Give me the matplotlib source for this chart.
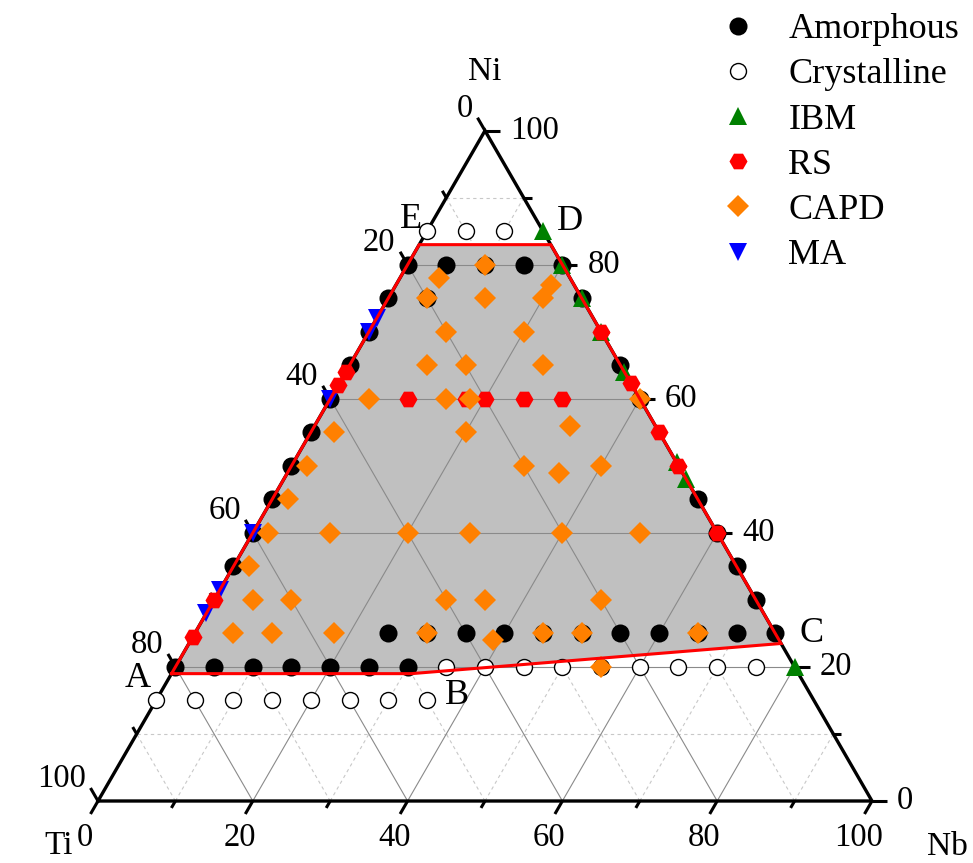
import numpy as np
import matplotlib
matplotlib.use("Agg")
import matplotlib.pyplot as plt

plt.rcParams['font.family'] = ['Liberation Serif', 'DejaVu Serif']

# ---------------- data (at.%; Ti = 100 - Ni - Nb) ----------------
amorphous_ni = [20, 20, 20, 20, 20, 20, 20,
                25, 25, 25, 25, 25, 25, 25, 25, 25, 25, 25,
                35, 40, 45, 50, 55, 60, 65, 70, 75, 80,
                80, 80, 80, 80, 75,
                30, 35, 40, 45, 60, 65, 75]
amorphous_nb = [0, 5, 10, 15, 20, 25, 30,
                25, 30, 35, 40, 45, 50, 55, 60, 65, 70, 75,
                0, 0, 0, 0, 0, 0, 0, 0, 0, 0,
                5, 10, 15, 20, 5,
                70, 65, 60, 55, 40, 35, 25]

crystalline_ni = [15, 15, 15, 15, 15, 15, 15, 15,
                  20, 20, 20, 20, 20, 20, 20, 20, 20,
                  85, 85, 85]
crystalline_nb = [0, 5, 10, 15, 20, 25, 30, 35,
                  35, 40, 45, 50, 55, 60, 65, 70, 75,
                  0, 5, 10]

ibm_ni = [85, 80, 75, 70, 64, 50.5, 48, 20]
ibm_nb = [15, 20, 25, 30, 36, 49.5, 52, 80]

rs_ni = [64, 62, 30, 24.5, 60, 60, 60, 60, 60, 70, 62.4, 55, 50, 40]
rs_nb = [0, 0, 0, 0, 10, 17.5, 20, 25, 30, 30, 37.6, 45, 50, 60]

capd_ni = [80, 78, 77, 75, 75, 75, 70, 70, 65, 65, 65, 60, 60, 60, 60,
           56, 55, 55, 50, 50, 49, 50, 45, 40, 40, 40, 40, 40, 40, 35,
           30, 30, 30, 30, 30, 25, 25, 25, 25, 24, 25, 25, 25, 20]
capd_nb = [10, 5, 20, 5, 12.5, 20, 10, 20, 10, 15, 25, 5, 15, 18, 40,
           33, 3, 20, 2, 30, 35, 40, 2, 2, 10, 20, 28, 40, 50, 2,
           5, 10, 30, 35, 50, 5, 10, 18, 30, 39, 45, 50, 65, 55]

ma_ni = [72, 70, 60, 40, 31.5, 28]
ma_nb = [0, 0, 0, 0, 0, 0]

region_ni = [19, 19, 23.5, 83, 83]
region_nb = [0, 31, 76.5, 17, 0]
region_labels = ['A', 'B', 'C', 'D', 'E']

tick_values = list(range(0, 101, 10))
axis_names = ['Ti', 'Nb', 'Ni']

# ---------------- geometry ----------------
R3 = np.sqrt(3) / 2


def tern(ni, nb):
    ni = np.asarray(ni, dtype=float) / 100.0
    nb = np.asarray(nb, dtype=float) / 100.0
    return nb + ni / 2.0, ni * R3


W, H = 973, 863
S = 774.0          # pixels per unit side
X0, Y0 = 98, 801   # Ti corner in pixel coords (from top-left)
px = 1.0 / S

fig = plt.figure(figsize=(W / 100, H / 100), dpi=100)
ax = fig.add_axes([0, 0, 1, 1])
ax.set_xlim(-X0 / S, (W - X0) / S)
ax.set_ylim(-(H - Y0) / S, Y0 / S)
ax.axis('off')

# grid lines
for k in range(10, 100, 10):
    major = (k % 20 == 0)
    segs = [tern([k, k], [0, 100 - k]),
            tern([0, 100 - k], [k, k]),
            tern([0, 100 - k], [100 - k, 0])]
    for xs, ys in segs:
        if major:
            ax.plot(xs, ys, color='#8a8a8a', lw=0.8, zorder=3)
        else:
            ax.plot(xs, ys, color='#c8c8c8', lw=0.8, ls=(0, (3, 3)), zorder=1)

# shaded region
rx, ry = tern(region_ni, region_nb)
ax.fill(rx, ry, color='#c0c0c0', zorder=2, lw=0)
ax.plot(np.append(rx, rx[0]), np.append(ry, ry[0]), color='#ff0000', lw=2.2,
        zorder=20, solid_joinstyle='miter')

# triangle edges
tx, ty = tern([0, 0, 100, 0], [0, 100, 0, 0])
ax.plot(tx, ty, color='black', lw=2.4, zorder=4, solid_joinstyle='miter')

# ticks and tick labels
for v in tick_values:
    L = (15 if v % 20 == 0 else 8) * px
    # bottom axis (Nb)
    bx, by = tern(0, v)
    ax.plot([bx, bx - 0.5 * L], [by, by - R3 * L], color='black', lw=2.2,
            zorder=4, solid_capstyle='butt')
    # left axis (Ti): Ti=v on left edge
    lx, ly = tern(100 - v, 0)
    ax.plot([lx, lx - 0.5 * L], [ly, ly + R3 * L], color='black', lw=2.2,
            zorder=4, solid_capstyle='butt')
    # right axis (Ni): Ni=v on right edge
    rxp, ryp = tern(v, 100 - v)
    ax.plot([rxp, rxp + L], [ryp, ryp], color='black', lw=2.2, zorder=4,
            solid_capstyle='butt')
    if v % 20 == 0:
        ax.text(bx - 13 * px, by - 37 * px, str(v), ha='center', va='center',
                fontsize=23.5)
        ax.text(lx - 12 * px, ly + 22 * px, str(v), ha='right', va='center',
                fontsize=23.5)
        ax.text(rxp + 25 * px, ryp, str(v), ha='left', va='center',
                fontsize=23.5)

# axis names
ax.text((59 - X0) * px, (Y0 - 846) * px, axis_names[0], ha='center', va='center', fontsize=24)
ax.text((947 - X0) * px, (Y0 - 847) * px, axis_names[1], ha='center', va='center', fontsize=24)
ax.text((485 - X0) * px, (Y0 - 72) * px, axis_names[2], ha='center', va='center', fontsize=24)

# region labels
label_px = [(138, 678), (457, 695), (812, 633), (570, 221), (411, 220)]
for lab, (lx_, ly_) in zip(region_labels, label_px):
    ax.text((lx_ - X0) * px, (Y0 - ly_) * px, lab, ha='center', va='center',
            fontsize=26)

# data series
x, y = tern(amorphous_ni, amorphous_nb)
h_am, = ax.plot(x, y, 'o', ms=13, mfc='black', mec='black', mew=0, ls='none',
                zorder=6, label='Amorphous')
x, y = tern(crystalline_ni, crystalline_nb)
h_cr, = ax.plot(x, y, 'o', ms=11.5, mfc='white', mec='black', mew=1.0, ls='none',
                zorder=7, label='Crystalline')
x, y = tern(ibm_ni, ibm_nb)
h_ibm, = ax.plot(x, y, '^', ms=13.5, mfc='#008000', mec='#008000', mew=0, ls='none',
                 zorder=8, label='IBM')
x, y = tern(ma_ni, ma_nb)
h_ma, = ax.plot(x, y, 'v', ms=13.5, mfc='#0000ff', mec='#0000ff', mew=0, ls='none',
                zorder=9, label='MA')
x, y = tern(rs_ni, rs_nb)
h_rs, = ax.plot(x, y, 'H', ms=13, mfc='#ff0000', mec='#ff0000', mew=0, ls='none',
                zorder=10, label='RS')
x, y = tern(capd_ni, capd_nb)
h_capd, = ax.plot(x, y, 'D', ms=11.3, mfc='#ff8000', mec='#ff8000', mew=0, ls='none',
                  zorder=11, label='CAPD')

leg = ax.legend([h_am, h_cr, h_ibm, h_rs, h_capd, h_ma],
                ['Amorphous', 'Crystalline', 'IBM', 'RS', 'CAPD', 'MA'],
                loc='upper left', bbox_to_anchor=(720 / W, 1 - 13 / H),
                bbox_transform=fig.transFigure, frameon=False, fontsize=26,
                handlelength=1.0, handletextpad=0.89, labelspacing=0.33,
                borderpad=0, borderaxespad=0, numpoints=1)

fig.savefig('out.png', dpi=100)
